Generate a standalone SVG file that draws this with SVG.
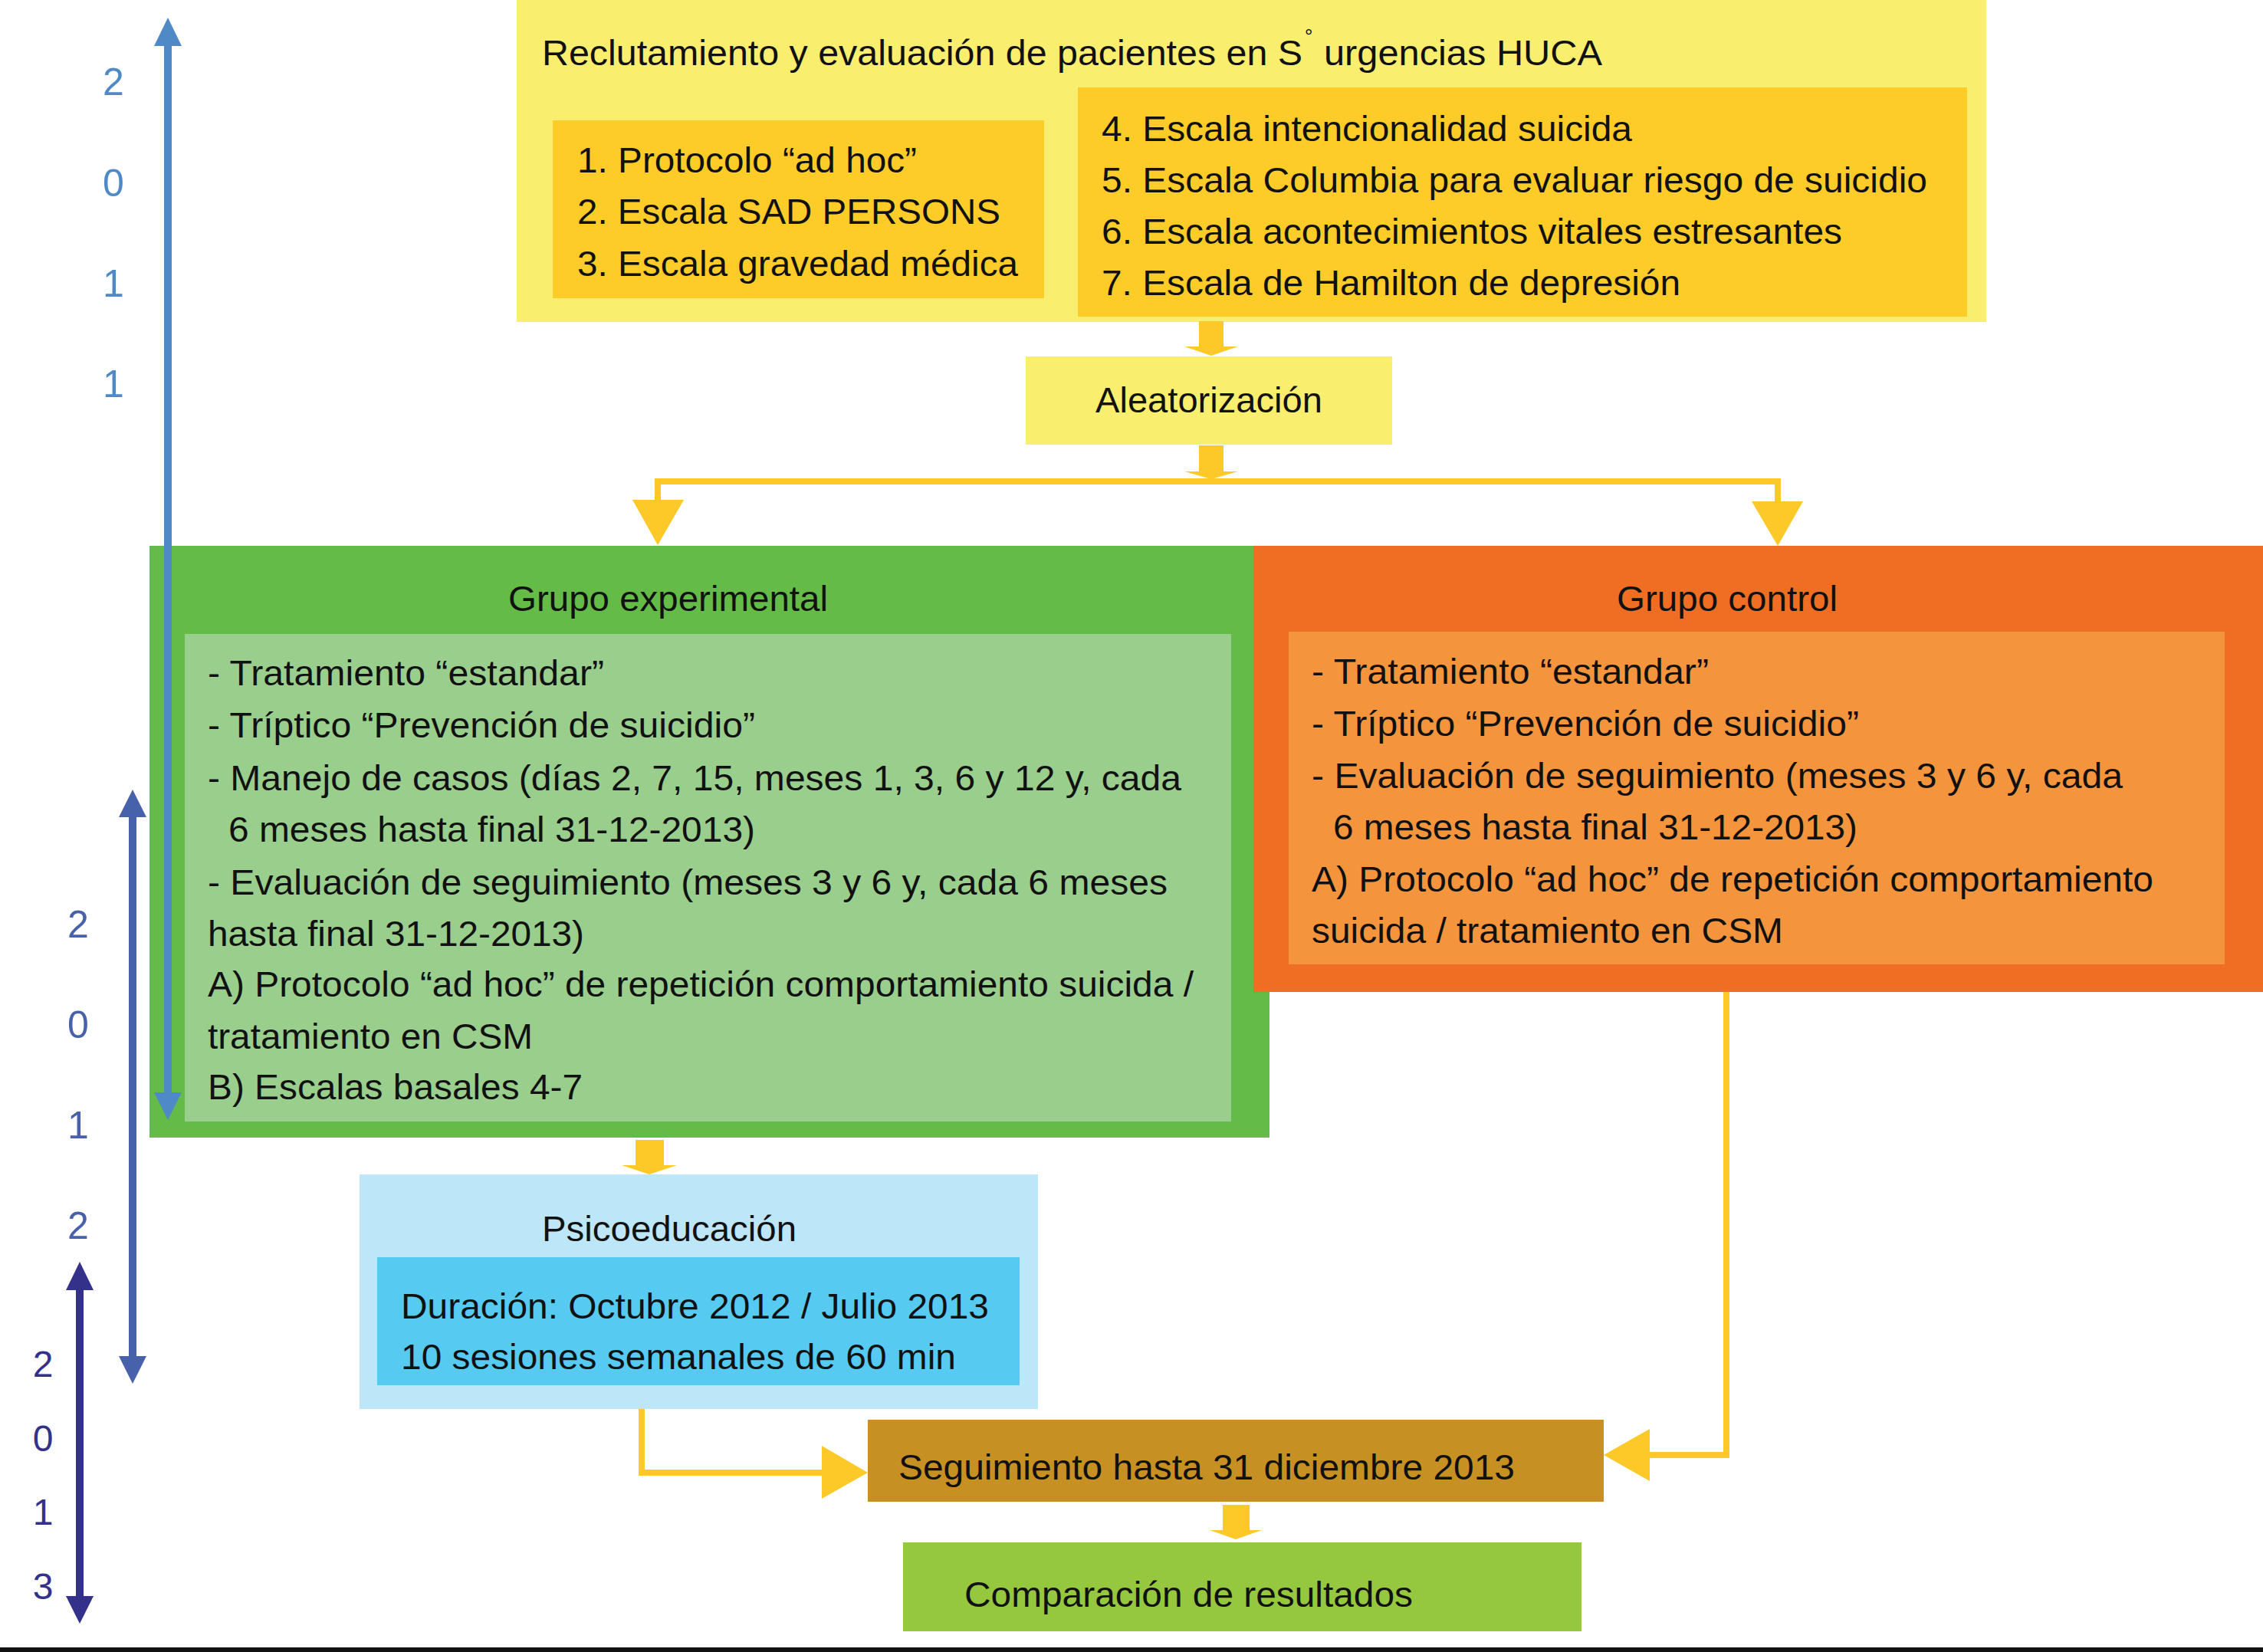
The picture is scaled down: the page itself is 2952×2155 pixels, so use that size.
<svg xmlns="http://www.w3.org/2000/svg" width="2952" height="2155" viewBox="0 0 2952 2155">
<style>
text{font-family:"Liberation Sans",Arial,sans-serif;font-size:46px;fill:#111}
.conn{fill:none;stroke:#FDC928;stroke-width:8}
.ah{fill:#FDC928}
.d1{fill:#4F8AC6;font-size:50px}
.d2{fill:#4761AA;font-size:50px}
.d3{fill:#34318A;font-size:48px}
</style>
<rect width="2952" height="2155" fill="#fff"/>
<g id="recruit">
<rect x="674" y="0" width="1917" height="420" fill="#F9EE6E"/>
<text x="707" y="85" textLength="992" lengthAdjust="spacingAndGlyphs">Reclutamiento y evaluación de pacientes en S</text>
<text x="1702" y="56" style="font-size:26px">°</text>
<text x="1727" y="85" textLength="363" lengthAdjust="spacingAndGlyphs">urgencias HUCA</text>
<rect x="721" y="157" width="641" height="232" fill="#FDCC28"/>
<text x="753" y="225" textLength="443" lengthAdjust="spacingAndGlyphs">1. Protocolo “ad hoc”</text>
<text x="753" y="292" textLength="552" lengthAdjust="spacingAndGlyphs">2. Escala SAD PERSONS</text>
<text x="753" y="360" textLength="575" lengthAdjust="spacingAndGlyphs">3. Escala gravedad médica</text>
<rect x="1406" y="114" width="1160" height="299" fill="#FDCC28"/>
<text x="1437" y="184" textLength="692" lengthAdjust="spacingAndGlyphs">4. Escala intencionalidad suicida</text>
<text x="1437" y="251" textLength="1077" lengthAdjust="spacingAndGlyphs">5. Escala Columbia para evaluar riesgo de suicidio</text>
<text x="1437" y="318" textLength="966" lengthAdjust="spacingAndGlyphs">6. Escala acontecimientos vitales estresantes</text>
<text x="1437" y="385" textLength="755" lengthAdjust="spacingAndGlyphs">7. Escala de Hamilton de depresión</text>
</g>
<g id="random">
<rect x="1338" y="465" width="478" height="115" fill="#F9EE6E"/>
<text x="1429" y="538" textLength="296" lengthAdjust="spacingAndGlyphs">Aleatorización</text>
</g>
<g id="experimental">
<rect x="195" y="712" width="1461" height="772" fill="#64BB47"/>
<text x="663" y="797" textLength="417" lengthAdjust="spacingAndGlyphs">Grupo experimental</text>
<rect x="241" y="827" width="1365" height="636" fill="#9ACE8D"/>
<text x="271" y="894" textLength="517" lengthAdjust="spacingAndGlyphs">- Tratamiento “estandar”</text>
<text x="271" y="962" textLength="714" lengthAdjust="spacingAndGlyphs">- Tríptico “Prevención de suicidio”</text>
<text x="271" y="1031" textLength="1270" lengthAdjust="spacingAndGlyphs">- Manejo de casos (días 2, 7, 15, meses 1, 3, 6 y 12 y, cada</text>
<text x="298" y="1098" textLength="687" lengthAdjust="spacingAndGlyphs">6 meses hasta final 31-12-2013)</text>
<text x="271" y="1167" textLength="1252" lengthAdjust="spacingAndGlyphs">- Evaluación de seguimiento (meses 3 y 6 y, cada 6 meses</text>
<text x="271" y="1234" textLength="491" lengthAdjust="spacingAndGlyphs">hasta final 31-12-2013)</text>
<text x="271" y="1300" textLength="1286" lengthAdjust="spacingAndGlyphs">A) Protocolo “ad hoc” de repetición comportamiento suicida /</text>
<text x="271" y="1368" textLength="424" lengthAdjust="spacingAndGlyphs">tratamiento en CSM</text>
<text x="271" y="1434" textLength="489" lengthAdjust="spacingAndGlyphs">B) Escalas basales 4-7</text>
</g>
<g id="control">
<rect x="1635" y="712" width="1317" height="582" fill="#F06E23"/>
<text x="2109" y="797" textLength="288" lengthAdjust="spacingAndGlyphs">Grupo control</text>
<rect x="1681" y="824" width="1221" height="434" fill="#F4953D"/>
<text x="1711" y="892" textLength="518" lengthAdjust="spacingAndGlyphs">- Tratamiento “estandar”</text>
<text x="1711" y="960" textLength="714" lengthAdjust="spacingAndGlyphs">- Tríptico “Prevención de suicidio”</text>
<text x="1711" y="1028" textLength="1058" lengthAdjust="spacingAndGlyphs">- Evaluación de seguimiento (meses 3 y 6 y, cada</text>
<text x="1739" y="1095" textLength="684" lengthAdjust="spacingAndGlyphs">6 meses hasta final 31-12-2013)</text>
<text x="1711" y="1163" textLength="1098" lengthAdjust="spacingAndGlyphs">A) Protocolo “ad hoc” de repetición comportamiento</text>
<text x="1711" y="1230" textLength="615" lengthAdjust="spacingAndGlyphs">suicida / tratamiento en CSM</text>
</g>
<g id="psico">
<rect x="469" y="1532" width="885" height="306" fill="#BEE6F9"/>
<text x="707" y="1619" textLength="332" lengthAdjust="spacingAndGlyphs">Psicoeducación</text>
<rect x="492" y="1640" width="838" height="167" fill="#57CAF2"/>
<text x="523" y="1720" textLength="767" lengthAdjust="spacingAndGlyphs">Duración: Octubre 2012 / Julio 2013</text>
<text x="523" y="1786" textLength="724" lengthAdjust="spacingAndGlyphs">10 sesiones semanales de 60 min</text>
</g>
<g id="seguimiento">
<rect x="1132" y="1852" width="960" height="107" fill="#C69023"/>
<text x="1172" y="1930" textLength="804" lengthAdjust="spacingAndGlyphs">Seguimiento hasta 31 diciembre 2013</text>
</g>
<g id="comparacion">
<rect x="1178" y="2012" width="885" height="116" fill="#96C83F"/>
<text x="1258" y="2096" textLength="585" lengthAdjust="spacingAndGlyphs">Comparación de resultados</text>
</g>
<g id="connectors">
<polygon class="ah" points="1564,419 1596,419 1596,452 1615,452 1580,464 1545,452 1564,452"/>
<polygon class="ah" points="1564,581 1596,581 1596,615 1615,615 1580,625 1545,615 1564,615"/>
<polyline class="conn" points="858,656 858,628 2319,628 2319,656"/>
<polygon class="ah" points="825,652 892,652 858,711"/>
<polygon class="ah" points="2285,654 2352,654 2319,712"/>
<polygon class="ah" points="829,1487 866,1487 866,1520 883,1520 847,1532 811,1520 829,1520"/>
<polyline class="conn" points="837,1838 837,1921 1075,1921"/>
<polygon class="ah" points="1072,1886 1132,1921 1072,1955"/>
<polyline class="conn" points="2252,1294 2252,1898 2150,1898"/>
<polygon class="ah" points="2152,1864 2092,1898 2152,1932"/>
<polygon class="ah" points="1595,1963 1630,1963 1630,1996 1646,1996 1612,2008 1578,1996 1595,1996"/>
</g>
<g id="timeline-2011">
<line x1="219" y1="55" x2="219" y2="1430" stroke="#4F8AC6" stroke-width="10"/>
<polygon points="201,60 237,60 219,23" fill="#4F8AC6"/>
<polygon points="201,1425 237,1425 219,1461" fill="#4F8AC6"/>
<text class="d1" x="148" y="124" text-anchor="middle">2</text>
<text class="d1" x="148" y="256" text-anchor="middle">0</text>
<text class="d1" x="148" y="387" text-anchor="middle">1</text>
<text class="d1" x="148" y="518" text-anchor="middle">1</text>
</g>
<g id="timeline-2012">
<line x1="173" y1="1060" x2="173" y2="1775" stroke="#4761AA" stroke-width="10"/>
<polygon points="155,1066 191,1066 173,1030" fill="#4761AA"/>
<polygon points="155,1769 191,1769 173,1805" fill="#4761AA"/>
<text class="d2" x="102" y="1223" text-anchor="middle">2</text>
<text class="d2" x="102" y="1354" text-anchor="middle">0</text>
<text class="d2" x="102" y="1485" text-anchor="middle">1</text>
<text class="d2" x="102" y="1616" text-anchor="middle">2</text>
</g>
<g id="timeline-2013">
<line x1="104" y1="1676" x2="104" y2="2088" stroke="#34318A" stroke-width="10"/>
<polygon points="86,1683 122,1683 104,1646" fill="#34318A"/>
<polygon points="86,2082 122,2082 104,2118" fill="#34318A"/>
<text class="d3" x="56" y="1796" text-anchor="middle">2</text>
<text class="d3" x="56" y="1893" text-anchor="middle">0</text>
<text class="d3" x="56" y="1989" text-anchor="middle">1</text>
<text class="d3" x="56" y="2086" text-anchor="middle">3</text>
</g>
<rect x="0" y="2149" width="2952" height="6" fill="#111"/>
</svg>
